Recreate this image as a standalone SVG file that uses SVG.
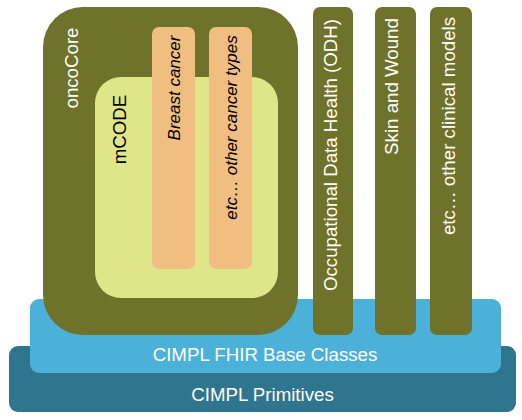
<svg xmlns="http://www.w3.org/2000/svg" width="522" height="420" viewBox="0 0 522 420">
<style>
text{font-family:"Liberation Sans",Arial,sans-serif;}
.w{fill:#ffffff;font-size:18.7px;}
.b{fill:#000000;font-size:18.7px;}
.i{fill:#000000;font-size:17px;font-style:italic;}
.olive{fill:#6E722A;}
.orange{fill:#F1BE82;}
</style>
<rect width="522" height="420" fill="#ffffff"/>
<g id="primitives">
<rect x="9" y="346" width="507" height="66" rx="9" fill="#30758F"/>
<text class="w" x="262.5" y="400.5" text-anchor="middle">CIMPL Primitives</text>
</g>
<g id="fhir">
<rect x="30" y="299" width="471" height="74" rx="9" fill="#4CB1D9"/>
<text class="w" x="265" y="361" text-anchor="middle">CIMPL FHIR Base Classes</text>
</g>
<g id="oncoCore">
<rect class="olive" x="43" y="7" width="255" height="328" rx="40"/>
<text class="w" transform="translate(78,68) rotate(-90)" text-anchor="middle">oncoCore</text>
</g>
<g id="mCODE">
<rect x="95" y="77" width="183" height="221" rx="26" fill="#DFE68A"/>
<text class="b" transform="translate(126,129.5) rotate(-90)" text-anchor="middle">mCODE</text>
</g>
<g id="breast">
<rect class="orange" x="152" y="27" width="43" height="242" rx="7"/>
<text class="i" transform="translate(180,88) rotate(-90)" text-anchor="middle">Breast cancer</text>
</g>
<g id="othercancer">
<rect class="orange" x="209" y="27" width="43" height="242" rx="7"/>
<text class="i" transform="translate(237,127.5) rotate(-90)" text-anchor="middle">etc… other cancer types</text>
</g>
<g id="odh">
<rect class="olive" x="313" y="7" width="40" height="328" rx="7"/>
<text class="w" transform="translate(337,155) rotate(-90)" text-anchor="middle">Occupational Data Health (ODH)</text>
</g>
<g id="skin">
<rect class="olive" x="375" y="7" width="41" height="328" rx="7"/>
<text class="w" transform="translate(398,86.5) rotate(-90)" text-anchor="middle">Skin and Wound</text>
</g>
<g id="clinical">
<rect class="olive" x="430" y="7" width="42" height="328" rx="7"/>
<text class="w" transform="translate(455,126) rotate(-90)" text-anchor="middle">etc… other clinical models</text>
</g>
<g id="connectors"></g>
</svg>
